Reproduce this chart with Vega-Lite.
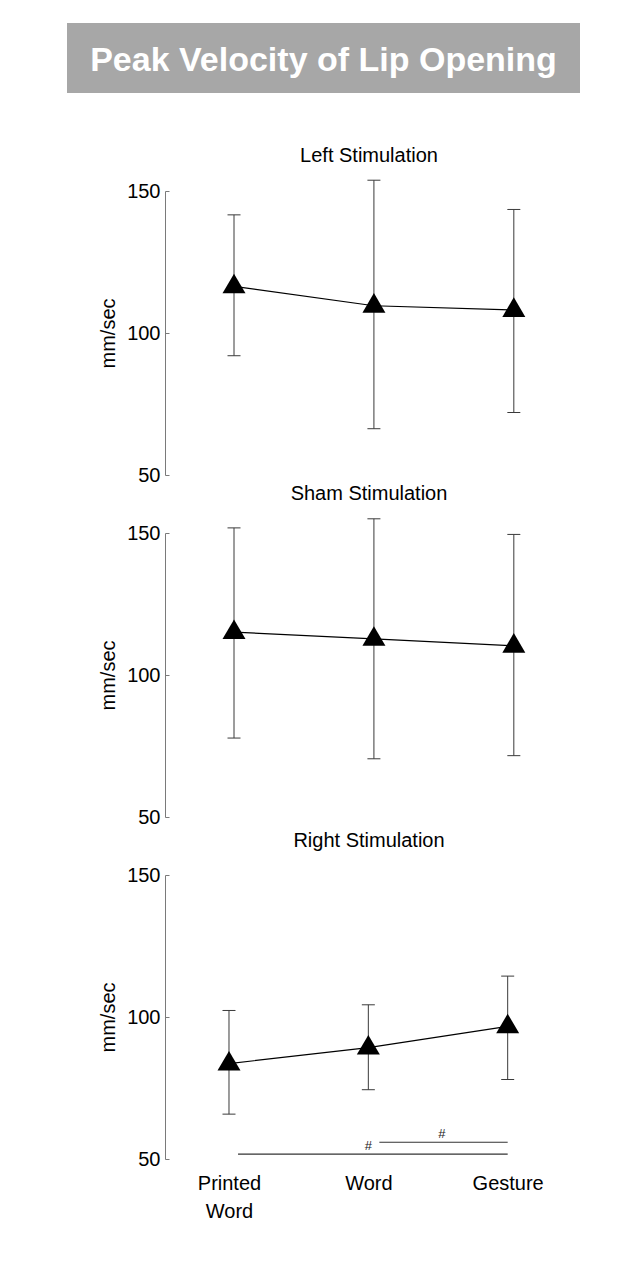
{
  "$schema": "https://vega.github.io/schema/vega-lite/v6.json",
  "background": "white",
  "padding": {"left": 67, "top": 23, "right": 10, "bottom": 10},
  "config": {"font": "Liberation Sans", "view": {"stroke": null}},
  "datasets": {
    "heading": [{"text": "Peak Velocity of Lip Opening"}],
    "stats": [
      {"panel": "Left", "condition": "Printed Word", "pos": 1, "mean": 116.4, "lo": 92.0, "hi": 141.6},
      {"panel": "Left", "condition": "Word", "pos": 2, "mean": 109.6, "lo": 66.3, "hi": 153.8},
      {"panel": "Left", "condition": "Gesture", "pos": 3, "mean": 108.1, "lo": 72.0, "hi": 143.5},
      {"panel": "Sham", "condition": "Printed Word", "pos": 1, "mean": 115.1, "lo": 77.8, "hi": 151.8},
      {"panel": "Sham", "condition": "Word", "pos": 2, "mean": 112.7, "lo": 70.5, "hi": 155.0},
      {"panel": "Sham", "condition": "Gesture", "pos": 3, "mean": 110.3, "lo": 71.6, "hi": 149.5},
      {"panel": "Right", "condition": "Printed Word", "pos": 1, "mean": 83.6, "lo": 65.8, "hi": 102.3},
      {"panel": "Right", "condition": "Word", "pos": 2, "mean": 89.2, "lo": 74.4, "hi": 104.3},
      {"panel": "Right", "condition": "Gesture", "pos": 3, "mean": 96.7, "lo": 78.0, "hi": 114.4}
    ],
    "sig": [
      {"from": 1.065, "to": 3.0, "y": 51.7},
      {"from": 2.079, "to": 3.0, "y": 55.9}
    ],
    "sigLabels": [
      {"x": 2.0, "y": 54.6, "label": "#"},
      {"x": 2.528, "y": 58.9, "label": "#"}
    ]
  },
  "spacing": 52,
  "vconcat": [
    {
      "data": {"name": "heading"},
      "width": 513,
      "height": 70,
      "view": {"fill": "#a7a7a7", "stroke": null},
      "mark": {"type": "text", "color": "white", "fontSize": 34, "fontWeight": "bold", "baseline": "middle", "dy": 3},
      "encoding": {"text": {"field": "text", "type": "nominal"}}
    },
    {
      "bounds": "flush",
      "spacing": 58,
      "vconcat": [
        {
          "width": 513,
          "height": 284,
          "title": {"text": "Left Stimulation", "fontSize": 20, "fontWeight": "normal", "color": "black", "offset": -2, "dx": 45.5, "anchor": "middle", "frame": "group", "baseline": "alphabetic"},
          "data": {"name": "stats"},
          "transform": [{"filter": "datum.panel === 'Left'"}],
          "encoding": {
            "x": {"field": "pos", "type": "quantitative", "scale": {"domain": [-0.1937, 3.473], "nice": false, "zero": false}, "axis": null}
          },
          "layer": [
            {
              "mark": {"type": "rule", "color": "#3a3a3a", "strokeWidth": 1},
              "encoding": {
                "y": {"field": "lo", "type": "quantitative", "title": "mm/sec", "scale": {"domain": [50, 150], "nice": false, "zero": false},
                  "axis": {"title": "mm/sec", "offset": -98, "values": [50, 100, 150], "grid": false, "domainColor": "#7a7a7a", "domainWidth": 1, "tickColor": "#7a7a7a", "tickSize": -4, "labelPadding": 9, "labelFontSize": 20, "labelColor": "black", "labelFlush": false, "titleFontSize": 20, "titleFontWeight": "normal", "titleColor": "black", "titlePadding": 8}},
                "y2": {"field": "hi"}
              }
            },
            {
              "mark": {"type": "tick", "orient": "horizontal", "size": 13, "thickness": 1, "color": "#3a3a3a", "opacity": 1},
              "encoding": {"y": {"field": "lo", "type": "quantitative", "title": "mm/sec"}}
            },
            {
              "mark": {"type": "tick", "orient": "horizontal", "size": 13, "thickness": 1, "color": "#3a3a3a", "opacity": 1},
              "encoding": {"y": {"field": "hi", "type": "quantitative", "title": "mm/sec"}}
            },
            {
              "mark": {"type": "line", "color": "black", "strokeWidth": 1.2},
              "encoding": {"y": {"field": "mean", "type": "quantitative", "title": "mm/sec"}}
            },
            {
              "mark": {"type": "point", "shape": "M0,-1.1L1,0.6L-1,0.6Z", "filled": true, "color": "black", "size": 529, "opacity": 1, "strokeWidth": 0},
              "encoding": {"y": {"field": "mean", "type": "quantitative", "title": "mm/sec"}}
            }
          ]
        },
        {
          "width": 513,
          "height": 284,
          "title": {"text": "Sham Stimulation", "fontSize": 20, "fontWeight": "normal", "color": "black", "offset": -2, "dx": 45.5, "anchor": "middle", "frame": "group", "baseline": "alphabetic"},
          "data": {"name": "stats"},
          "transform": [{"filter": "datum.panel === 'Sham'"}],
          "encoding": {
            "x": {"field": "pos", "type": "quantitative", "scale": {"domain": [-0.1937, 3.473], "nice": false, "zero": false}, "axis": null}
          },
          "layer": [
            {
              "mark": {"type": "rule", "color": "#3a3a3a", "strokeWidth": 1},
              "encoding": {
                "y": {"field": "lo", "type": "quantitative", "title": "mm/sec", "scale": {"domain": [50, 150], "nice": false, "zero": false},
                  "axis": {"title": "mm/sec", "offset": -98, "values": [50, 100, 150], "grid": false, "domainColor": "#7a7a7a", "domainWidth": 1, "tickColor": "#7a7a7a", "tickSize": -4, "labelPadding": 9, "labelFontSize": 20, "labelColor": "black", "labelFlush": false, "titleFontSize": 20, "titleFontWeight": "normal", "titleColor": "black", "titlePadding": 8}},
                "y2": {"field": "hi"}
              }
            },
            {
              "mark": {"type": "tick", "orient": "horizontal", "size": 13, "thickness": 1, "color": "#3a3a3a", "opacity": 1},
              "encoding": {"y": {"field": "lo", "type": "quantitative", "title": "mm/sec"}}
            },
            {
              "mark": {"type": "tick", "orient": "horizontal", "size": 13, "thickness": 1, "color": "#3a3a3a", "opacity": 1},
              "encoding": {"y": {"field": "hi", "type": "quantitative", "title": "mm/sec"}}
            },
            {
              "mark": {"type": "line", "color": "black", "strokeWidth": 1.2},
              "encoding": {"y": {"field": "mean", "type": "quantitative", "title": "mm/sec"}}
            },
            {
              "mark": {"type": "point", "shape": "M0,-1.1L1,0.6L-1,0.6Z", "filled": true, "color": "black", "size": 529, "opacity": 1, "strokeWidth": 0},
              "encoding": {"y": {"field": "mean", "type": "quantitative", "title": "mm/sec"}}
            }
          ]
        },
        {
          "width": 513,
          "height": 284,
          "title": {"text": "Right Stimulation", "fontSize": 20, "fontWeight": "normal", "color": "black", "offset": -2, "dx": 45.5, "anchor": "middle", "frame": "group", "baseline": "alphabetic"},
          "data": {"name": "stats"},
          "transform": [{"filter": "datum.panel === 'Right'"}],
          "layer": [
            {
              "mark": {"type": "rule", "color": "#3a3a3a", "strokeWidth": 1},
              "encoding": {
                "x": {"field": "pos", "type": "quantitative", "scale": {"domain": [-0.1625, 3.519], "nice": false, "zero": false},
                  "axis": {"values": [1, 2, 3], "labelExpr": "datum.value == 1 ? ['Printed', 'Word'] : datum.value == 2 ? 'Word' : 'Gesture'", "domain": false, "ticks": false, "tickSize": 0, "grid": false, "title": null, "labelFontSize": 20, "labelColor": "black", "labelPadding": 14, "labelLineHeight": 28, "labelFlush": false, "labelOverlap": false}},
                "y": {"field": "lo", "type": "quantitative", "title": "mm/sec", "scale": {"domain": [50, 150], "nice": false, "zero": false},
                  "axis": {"title": "mm/sec", "offset": -98, "values": [50, 100, 150], "grid": false, "domainColor": "#7a7a7a", "domainWidth": 1, "tickColor": "#7a7a7a", "tickSize": -4, "labelPadding": 9, "labelFontSize": 20, "labelColor": "black", "labelFlush": false, "titleFontSize": 20, "titleFontWeight": "normal", "titleColor": "black", "titlePadding": 8}},
                "y2": {"field": "hi"}
              }
            },
            {
              "mark": {"type": "tick", "orient": "horizontal", "size": 13, "thickness": 1, "color": "#3a3a3a", "opacity": 1},
              "encoding": {
                "x": {"field": "pos", "type": "quantitative", "scale": {"domain": [-0.1625, 3.519], "nice": false, "zero": false}},
                "y": {"field": "lo", "type": "quantitative", "title": "mm/sec"}
              }
            },
            {
              "mark": {"type": "tick", "orient": "horizontal", "size": 13, "thickness": 1, "color": "#3a3a3a", "opacity": 1},
              "encoding": {
                "x": {"field": "pos", "type": "quantitative", "scale": {"domain": [-0.1625, 3.519], "nice": false, "zero": false}},
                "y": {"field": "hi", "type": "quantitative", "title": "mm/sec"}
              }
            },
            {
              "mark": {"type": "line", "color": "black", "strokeWidth": 1.2},
              "encoding": {
                "x": {"field": "pos", "type": "quantitative", "scale": {"domain": [-0.1625, 3.519], "nice": false, "zero": false}},
                "y": {"field": "mean", "type": "quantitative", "title": "mm/sec"}
              }
            },
            {
              "mark": {"type": "point", "shape": "M0,-1.1L1,0.6L-1,0.6Z", "filled": true, "color": "black", "size": 529, "opacity": 1, "strokeWidth": 0},
              "encoding": {
                "x": {"field": "pos", "type": "quantitative", "scale": {"domain": [-0.1625, 3.519], "nice": false, "zero": false}},
                "y": {"field": "mean", "type": "quantitative", "title": "mm/sec"}
              }
            },
            {
              "data": {"name": "sig"},
              "mark": {"type": "rule", "color": "#333333", "strokeWidth": 1.2},
              "encoding": {
                "x": {"field": "from", "type": "quantitative", "scale": {"domain": [-0.1625, 3.519], "nice": false, "zero": false}},
                "x2": {"field": "to"},
                "y": {"field": "y", "type": "quantitative", "title": "mm/sec"}
              }
            },
            {
              "data": {"name": "sigLabels"},
              "mark": {"type": "text", "fontSize": 13, "color": "#222222", "baseline": "middle"},
              "encoding": {
                "x": {"field": "x", "type": "quantitative", "scale": {"domain": [-0.1625, 3.519], "nice": false, "zero": false}},
                "y": {"field": "y", "type": "quantitative", "title": "mm/sec"},
                "text": {"field": "label", "type": "nominal"}
              }
            }
          ]
        }
      ]
    }
  ]
}
